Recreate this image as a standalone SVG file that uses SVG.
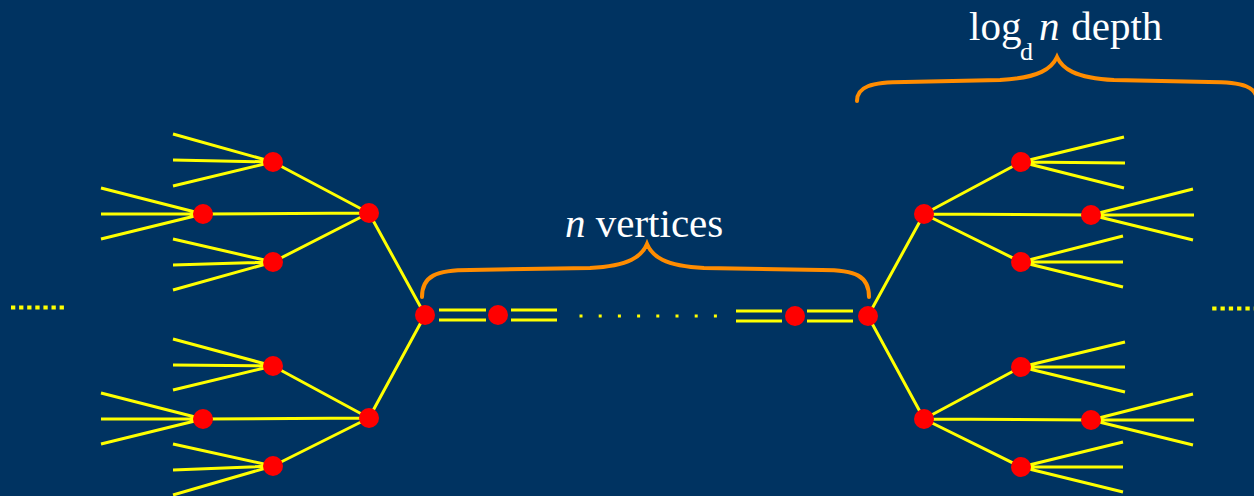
<svg xmlns="http://www.w3.org/2000/svg" width="1254" height="496" viewBox="0 0 1254 496">
<style>
.e{stroke:#FFFF00;stroke-width:3;fill:none}
.n{fill:#FF0000}
.br{stroke:#FF8C00;stroke-width:4;fill:none;stroke-linecap:round}
.t{fill:#FFFFFF;font-size:41px}
</style>
<rect width="1254" height="496" fill="#003361"/>
<g id="connectors">
<path class="e" d="M273,162L173,134M273,162L173,160M273,162L173,186"/>
<path class="e" d="M203,214L101,188M203,214L101,214M203,214L101,239"/>
<path class="e" d="M273,262L173,239M273,262L173,265M273,262L173,290"/>
<path class="e" d="M369,213L273,162M369,213L203,214M369,213L273,262"/>
<path class="e" d="M273,366L173,339M273,366L173,365M273,366L173,390"/>
<path class="e" d="M203,419L101,393M203,419L101,419M203,419L101,444"/>
<path class="e" d="M273,466L173,444M273,466L173,470M273,466L173,495"/>
<path class="e" d="M369,418L273,366M369,418L203,419M369,418L273,466"/>
<path class="e" d="M425,315L369,213M425,315L369,418"/>
<path class="e" d="M1021,162L1124,137M1021,162L1125,163M1021,162L1124,188"/>
<path class="e" d="M1091,215L1193,189M1091,215L1194,215M1091,215L1193,240"/>
<path class="e" d="M1021,262L1123,236M1021,262L1123,262M1021,262L1123,287"/>
<path class="e" d="M924,214L1021,162M924,214L1091,215M924,214L1021,262"/>
<path class="e" d="M1021,367L1125,342M1021,367L1125,367M1021,367L1125,392"/>
<path class="e" d="M1091,420L1193,394M1091,420L1194,420M1091,420L1193,445"/>
<path class="e" d="M1021,467L1123,442M1021,467L1123,467M1021,467L1123,492"/>
<path class="e" d="M924,419L1021,367M924,419L1091,420M924,419L1021,467"/>
<path class="e" d="M868,316L924,214M868,316L924,419"/>
<path class="e" d="M439,310H486M439,320H486M511,310H557M511,320H557"/>
<path class="e" d="M736,311H782M736,321H782M807,311H853M807,321H853"/>
<line x1="579.5" y1="316" x2="717" y2="316" stroke="#FFFF00" stroke-width="3" stroke-dasharray="3 16.2"/>
<line x1="11" y1="307.5" x2="66" y2="307.5" stroke="#FFFF00" stroke-width="4" stroke-dasharray="4.3 3.8"/>
<line x1="1212.2" y1="308.5" x2="1254" y2="308.5" stroke="#FFFF00" stroke-width="4" stroke-dasharray="4.3 4"/>
</g>
<g id="nodes">
<circle class="n" cx="273" cy="162" r="10"/>
<circle class="n" cx="203" cy="214" r="10"/>
<circle class="n" cx="273" cy="262" r="10"/>
<circle class="n" cx="369" cy="213" r="10"/>
<circle class="n" cx="273" cy="366" r="10"/>
<circle class="n" cx="203" cy="419" r="10"/>
<circle class="n" cx="273" cy="466" r="10"/>
<circle class="n" cx="369" cy="418" r="10"/>
<circle class="n" cx="425" cy="315" r="10"/>
<circle class="n" cx="498" cy="315" r="10"/>
<circle class="n" cx="795" cy="316" r="10"/>
<circle class="n" cx="868" cy="316" r="10"/>
<circle class="n" cx="924" cy="214" r="10"/>
<circle class="n" cx="1021" cy="162" r="10"/>
<circle class="n" cx="1091" cy="215" r="10"/>
<circle class="n" cx="1021" cy="262" r="10"/>
<circle class="n" cx="924" cy="419" r="10"/>
<circle class="n" cx="1021" cy="367" r="10"/>
<circle class="n" cx="1091" cy="420" r="10"/>
<circle class="n" cx="1021" cy="467" r="10"/>
</g>
<g id="brace-vertices">
<path class="br" d="M422,297C422,276 436,270 470,270L590,268C630,266 642,256 647,244C652,256 664,266 704,268L822,270C856,270 869,276 869,297"/>
<text class="t" font-family="'Liberation Serif', 'DejaVu Serif', serif" x="565" y="237"><tspan font-style="italic">n</tspan> vertices</text>
</g>
<g id="brace-depth">
<path class="br" d="M857,101C857,87 870,82 905,82L1000,80C1040,78 1052,68 1057,57C1062,68 1074,78 1114,80L1209,82C1244,82 1257,87 1257,101"/>
<text class="t" font-family="'Liberation Serif', 'DejaVu Serif', serif" x="969" y="40">log<tspan font-size="26" x="1020" y="60">d</tspan><tspan font-style="italic" x="1039" y="40">n</tspan><tspan x="1061" y="40"> depth</tspan></text>
</g>
</svg>
